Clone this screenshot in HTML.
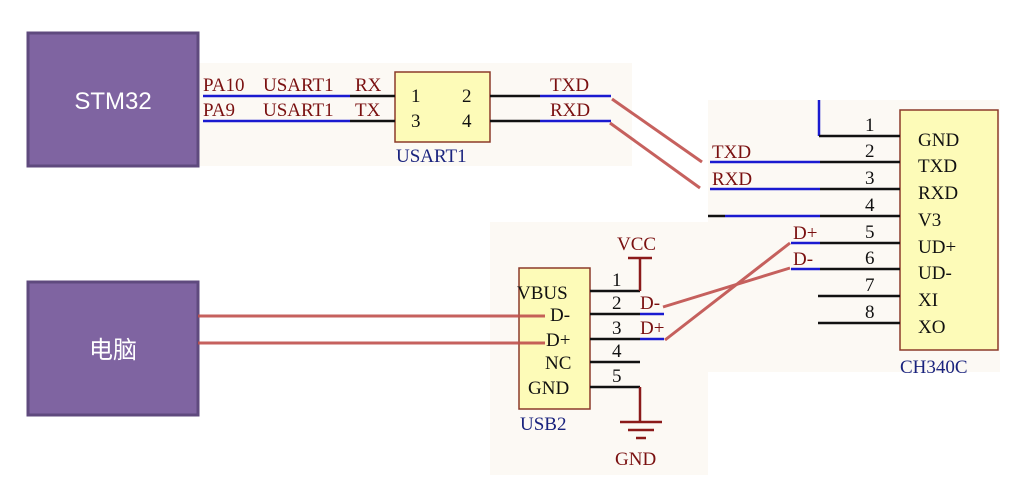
<!DOCTYPE html>
<html><head><meta charset="utf-8"><style>
html,body{margin:0;padding:0;background:#fff;width:1025px;height:489px;overflow:hidden}
svg{display:block}
.s{font-family:"Liberation Serif",serif;font-size:19px}
.r{fill:#7a1010}.b{fill:#1a237e}.k{fill:#111}
</style></head><body>
<svg width="1025" height="489" viewBox="0 0 1025 489">
<rect x="197" y="63" width="435" height="103" fill="#fcf9f4"/>
<rect x="708" y="100" width="292" height="272" fill="#fcf9f4"/>
<rect x="490" y="222" width="218" height="253" fill="#fcf9f4"/>
<rect x="28" y="33" width="170" height="133" fill="#7f64a1" stroke="#5f4a7e" stroke-width="3"/>
<text x="113" y="109" text-anchor="middle" font-family="Liberation Sans,sans-serif" font-size="24" fill="#fff">STM32</text>
<rect x="28" y="282" width="170" height="133" fill="#7f64a1" stroke="#5f4a7e" stroke-width="3"/>
<text x="113" y="358" text-anchor="middle" font-family="Liberation Sans,'Noto Sans CJK SC',sans-serif" font-size="24" fill="#fff">电脑</text>
<rect x="395" y="72" width="95" height="70" fill="#fdfbb8" stroke="#8b3a2a" stroke-width="1.5"/>
<g stroke-width="2.5">
<line x1="203" y1="96" x2="350" y2="96" stroke="#1a1ad0"/><line x1="350" y1="96" x2="395" y2="96" stroke="#111"/>
<line x1="203" y1="121" x2="350" y2="121" stroke="#1a1ad0"/><line x1="350" y1="121" x2="395" y2="121" stroke="#111"/>
<line x1="490" y1="96" x2="540" y2="96" stroke="#111"/><line x1="540" y1="96" x2="611" y2="96" stroke="#1a1ad0"/>
<line x1="490" y1="121" x2="540" y2="121" stroke="#111"/><line x1="540" y1="121" x2="611" y2="121" stroke="#1a1ad0"/>
</g>
<text class="s r" x="203" y="91">PA10</text><text class="s r" x="263" y="91">USART1</text><text class="s r" x="355" y="91">RX</text>
<text class="s r" x="203" y="116">PA9</text><text class="s r" x="263" y="116">USART1</text><text class="s r" x="355" y="116">TX</text>
<text class="s k" x="411" y="102">1</text><text class="s k" x="462" y="102">2</text>
<text class="s k" x="411" y="127">3</text><text class="s k" x="462" y="127">4</text>
<text class="s b" x="396" y="162">USART1</text>
<text class="s r" x="550" y="91">TXD</text><text class="s r" x="550" y="116">RXD</text>
<rect x="900" y="110" width="98" height="240" fill="#fdfbb8" stroke="#8b3a2a" stroke-width="1.5"/>
<g stroke-width="2.5">
<line x1="819" y1="100" x2="819" y2="136" stroke="#1a1ad0"/><line x1="819" y1="136" x2="900" y2="136" stroke="#111"/>
<line x1="710" y1="162" x2="820" y2="162" stroke="#1a1ad0"/><line x1="820" y1="162" x2="900" y2="162" stroke="#111"/>
<line x1="710" y1="189" x2="820" y2="189" stroke="#1a1ad0"/><line x1="820" y1="189" x2="900" y2="189" stroke="#111"/>
<line x1="708" y1="216" x2="725" y2="216" stroke="#111"/><line x1="725" y1="216" x2="820" y2="216" stroke="#1a1ad0"/><line x1="820" y1="216" x2="900" y2="216" stroke="#111"/>
<line x1="791" y1="243" x2="820" y2="243" stroke="#1a1ad0"/><line x1="820" y1="243" x2="900" y2="243" stroke="#111"/>
<line x1="791" y1="269" x2="820" y2="269" stroke="#1a1ad0"/><line x1="820" y1="269" x2="900" y2="269" stroke="#111"/>
<line x1="818" y1="296" x2="900" y2="296" stroke="#111"/>
<line x1="818" y1="323" x2="900" y2="323" stroke="#111"/>
</g>
<g class="s k" font-size="20">
<text x="865" y="131">1</text><text x="865" y="157">2</text><text x="865" y="184">3</text><text x="865" y="211">4</text>
<text x="865" y="238">5</text><text x="865" y="264">6</text><text x="865" y="291">7</text><text x="865" y="318">8</text>
<text x="918" y="146">GND</text><text x="918" y="172">TXD</text><text x="918" y="199">RXD</text><text x="918" y="226">V3</text>
<text x="918" y="253">UD+</text><text x="918" y="279">UD-</text><text x="918" y="306">XI</text><text x="918" y="333">XO</text>
</g>
<text class="s r" x="712" y="158">TXD</text><text class="s r" x="712" y="185">RXD</text>
<text class="s r" x="793" y="239">D+</text><text class="s r" x="793" y="265">D-</text>
<text class="s b" x="900" y="373">CH340C</text>
<rect x="519" y="268" width="71" height="141" fill="#fdfbb8" stroke="#8b3a2a" stroke-width="1.5"/>
<g stroke-width="2.5">
<line x1="590" y1="291" x2="640" y2="291" stroke="#111"/>
<line x1="640" y1="258" x2="640" y2="291" stroke="#8b1a1a"/>
<line x1="628" y1="258" x2="652" y2="258" stroke="#8b1a1a"/>
<line x1="590" y1="314" x2="640" y2="314" stroke="#111"/><line x1="640" y1="314" x2="664" y2="314" stroke="#1a1ad0"/>
<line x1="590" y1="339" x2="640" y2="339" stroke="#111"/><line x1="640" y1="339" x2="664" y2="339" stroke="#1a1ad0"/>
<line x1="590" y1="362" x2="640" y2="362" stroke="#111"/>
<line x1="590" y1="387" x2="640" y2="387" stroke="#111"/>
<line x1="640" y1="387" x2="640" y2="422" stroke="#8b1a1a"/>
<line x1="620" y1="422" x2="662" y2="422" stroke="#8b1a1a"/>
<line x1="628" y1="430" x2="654" y2="430" stroke="#8b1a1a"/>
<line x1="636" y1="438" x2="646" y2="438" stroke="#8b1a1a"/>
</g>
<text class="s r" x="617" y="250">VCC</text>
<text class="s r" x="615" y="465">GND</text>
<g class="s k">
<text x="612" y="286">1</text><text x="612" y="309">2</text><text x="612" y="334">3</text><text x="612" y="357">4</text><text x="612" y="382">5</text>
<text x="517" y="299">VBUS</text><text x="550" y="321">D-</text><text x="546" y="346">D+</text><text x="545" y="369">NC</text><text x="528" y="394">GND</text>
</g>
<text class="s r" x="640" y="309">D-</text><text class="s r" x="640" y="334">D+</text>
<text class="s b" x="520" y="430">USB2</text>
<g stroke="#c0504d" stroke-width="3" fill="none" opacity="0.9">
<line x1="612" y1="99" x2="702" y2="162"/>
<line x1="610" y1="123" x2="700" y2="188"/>
<line x1="198" y1="316" x2="545" y2="316"/>
<line x1="198" y1="343" x2="545" y2="343"/>
<line x1="663" y1="307" x2="790" y2="268"/>
<line x1="665" y1="340" x2="790" y2="243"/>
</g>
</svg>
</body></html>
